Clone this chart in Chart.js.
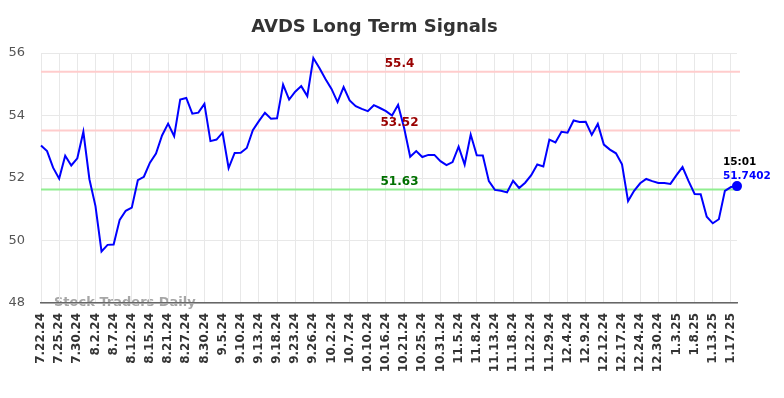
<!DOCTYPE html>
<html>
<head>
<meta charset="utf-8">
<script src="https://cdn.jsdelivr.net/npm/chart.js@4"></script>
<style>
  body { margin: 0; background: #fff; }
  #wrap { width: 784px; height: 398px; }
</style>
</head>
<body>
<div id="wrap"><canvas id="myChart" width="784" height="398"></canvas></div>
<script>
var dates = [
  '7.22.24','7.23.24','7.24.24','7.25.24','7.26.24','7.29.24','7.30.24','7.31.24','8.1.24',
  '8.2.24','8.5.24','8.6.24','8.7.24','8.8.24','8.9.24','8.12.24','8.13.24','8.14.24',
  '8.15.24','8.16.24','8.19.24','8.21.24','8.22.24','8.23.24','8.27.24','8.28.24','8.29.24',
  '8.30.24','9.3.24','9.4.24','9.5.24','9.6.24','9.9.24','9.10.24','9.11.24','9.12.24',
  '9.13.24','9.16.24','9.17.24','9.18.24','9.19.24','9.20.24','9.23.24','9.24.24','9.25.24',
  '9.26.24','9.27.24','9.30.24','10.2.24','10.3.24','10.4.24','10.7.24','10.8.24','10.9.24',
  '10.10.24','10.11.24','10.14.24','10.16.24','10.17.24','10.18.24','10.21.24','10.22.24','10.23.24',
  '10.25.24','10.28.24','10.29.24','10.31.24','11.1.24','11.4.24','11.5.24','11.6.24','11.7.24',
  '11.8.24','11.11.24','11.12.24','11.13.24','11.14.24','11.15.24','11.18.24','11.19.24','11.21.24',
  '11.22.24','11.25.24','11.26.24','11.29.24','12.2.24','12.3.24','12.4.24','12.5.24','12.6.24',
  '12.9.24','12.10.24','12.11.24','12.12.24','12.13.24','12.16.24','12.17.24','12.18.24','12.20.24',
  '12.24.24','12.26.24','12.27.24','12.30.24','12.31.24','1.2.25','1.3.25','1.6.25','1.7.25',
  '1.8.25','1.9.25','1.10.25','1.13.25','1.14.25','1.15.25','1.17.25','1.21.25'
];

var prices = [
  53.04, 52.86, 52.33, 51.98, 52.71, 52.40, 52.63, 53.48, 51.96, 51.10,
  49.65, 49.86, 49.87, 50.66, 50.95, 51.05, 51.93, 52.04, 52.49, 52.78,
  53.36, 53.74, 53.34, 54.51, 54.56, 54.06, 54.09, 54.37, 53.18, 53.23,
  53.45, 52.32, 52.80, 52.81, 52.96, 53.53, 53.82, 54.09, 53.90, 53.91,
  54.99, 54.51, 54.76, 54.94, 54.62, 55.84, 55.52, 55.17, 54.85, 54.43,
  54.91, 54.48, 54.30, 54.21, 54.14, 54.33, 54.24, 54.14, 54.00, 54.34,
  53.60, 52.68, 52.86, 52.67, 52.74, 52.74, 52.54, 52.41, 52.51, 53.00,
  52.43, 53.39, 52.73, 52.72, 51.90, 51.62, 51.59, 51.54, 51.91, 51.68,
  51.85, 52.09, 52.43, 52.37, 53.23, 53.14, 53.48, 53.45, 53.84, 53.79,
  53.80, 53.38, 53.73, 53.07, 52.91, 52.79, 52.44, 51.26, 51.59, 51.83,
  51.97, 51.90, 51.84, 51.84, 51.81, 52.09, 52.35, 51.90, 51.49, 51.48,
  50.76, 50.55, 50.68, 51.59, 51.71, 51.7402
];

var signalValues = [55.4, 53.52, 51.63];
var signalColors = ['#ffcccc', '#ffcccc', '#90ee90'];
var signalText = ['#990000', '#990000', '#007000'];
var lastTime = '15:01';

var font = "'DejaVu Sans', sans-serif";

var signalPlugin = {
  id: 'signals',
  beforeDraw: function(chart) {
    var c = chart.ctx;
    c.save();
    c.font = 'bold 18px ' + font;
    c.fillStyle = '#333';
    c.textAlign = 'center';
    c.textBaseline = 'middle';
    c.fillText('AVDS Long Term Signals', 374.5, 27);
    c.font = 'bold 13px ' + font;
    c.fillStyle = 'rgba(150,150,150,0.85)';
    c.textAlign = 'left';
    c.fillText('Stock Traders Daily', 54, 302.5);
    c.restore();
  },
  beforeDatasetsDraw: function(chart) {
    var c = chart.ctx, a = chart.chartArea, y = chart.scales.y;
    c.save();
    signalValues.forEach(function(v, i) {
      var py = y.getPixelForValue(v);
      c.strokeStyle = signalColors[i];
      c.lineWidth = 2;
      c.beginPath();
      c.moveTo(a.left, py);
      c.lineTo(a.right + 3, py);
      c.stroke();
    });
    c.restore();
  },
  afterDatasetsDraw: function(chart) {
    var c = chart.ctx, y = chart.scales.y, x = chart.scales.x;
    c.save();
    c.font = 'bold 12px ' + font;
    c.textAlign = 'center';
    c.textBaseline = 'middle';
    signalValues.forEach(function(v, i) {
      c.fillStyle = signalText[i];
      c.fillText(String(v), 399.5, y.getPixelForValue(v) - 7.5);
    });
    var n = prices.length - 1;
    var px = x.getPixelForValue(n), py = y.getPixelForValue(prices[n]);
    c.font = 'bold 10.5px ' + font;
    c.textAlign = 'left';
    c.fillStyle = '#000';
    c.fillText(lastTime, px - 14, py - 23.5);
    c.fillStyle = '#0000ff';
    c.fillText(String(prices[n]), px - 14, py - 10);
    c.restore();
  }
};

var ctx = document.getElementById('myChart').getContext('2d');
var chart = new Chart(ctx, {
  type: 'line',
  data: {
    labels: dates,
    datasets: [{
      data: prices,
      borderColor: '#0000ff',
      backgroundColor: '#0000ff',
      borderWidth: 2,
      tension: 0,
      pointRadius: function(c) { return c.dataIndex === prices.length - 1 ? 4 : 0; },
      pointHoverRadius: 0
    }]
  },
  options: {
    responsive: false,
    animation: false,
    layout: { padding: { top: 53, right: 47, left: 0, bottom: 0 } },
    plugins: { legend: { display: false }, title: { display: false }, tooltip: { enabled: false } },
    scales: {
      x: {
        afterFit: function(s) { s.height = 95; },
        grid: { color: '#e8e8e8', lineWidth: 1, drawTicks: false },
        border: { color: '#666', width: 1.5 },
        ticks: {
          autoSkip: false,
          maxRotation: 90,
          minRotation: 90,
          padding: 10,
          color: '#333',
          font: { family: font, size: 12, weight: 'bold' },
          callback: function(val, i) { return i % 3 === 0 ? dates[i] : null; }
        }
      },
      y: {
        min: 48,
        max: 56,
        afterFit: function(s) { s.width = 41; },
        grid: { color: '#e8e8e8', lineWidth: 1, drawTicks: false },
        border: { display: false },
        ticks: {
          stepSize: 2,
          padding: 16,
          color: '#555',
          font: { family: font, size: 13 }
        }
      }
    }
  },
  plugins: [signalPlugin]
});
</script>
</body>
</html>
